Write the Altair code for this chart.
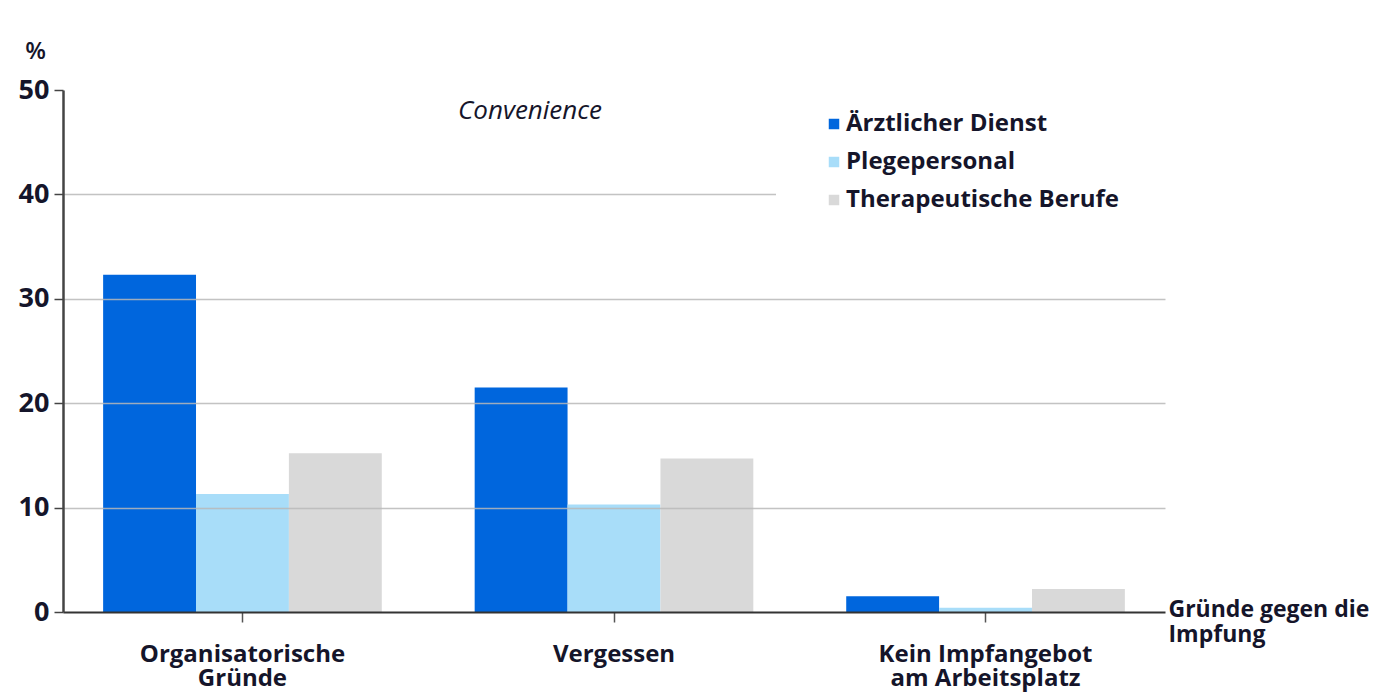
import altair as alt
import pandas as pd

categories = ["Organisatorische Gründe", "Vergessen", "Kein Impfangebot am Arbeitsplatz"]
label_lines = [["Organisatorische", "Gründe"], ["Vergessen"], ["Kein Impfangebot", "am Arbeitsplatz"]]
groups = ["Ärztlicher Dienst", "Plegepersonal", "Therapeutische Berufe"]
aerztlicher_dienst = [32.3, 21.5, 1.5]
pflegepersonal = [11.3, 10.3, 0.4]
therapeutische_berufe = [15.2, 14.7, 2.2]
colors = ["#0066DD", "#A8DDF9", "#D9D9D9"]
y_ticks = [0, 10, 20, 30, 40, 50]

rows = []
for series, vals in zip(groups, [aerztlicher_dienst, pflegepersonal, therapeutische_berufe]):
    for c, v in zip(categories, vals):
        rows.append({"Grund": c, "Gruppe": series, "Wert": v})
df = pd.DataFrame(rows)

expr = "datum.label"
for cat, lines in zip(categories, label_lines):
    if len(lines) > 1:
        arr = "[" + ", ".join("'" + s + "'" for s in lines) + "]"
        expr = f"datum.label == '{cat}' ? {arr} : ({expr})"

FONT = "Open Sans"
TXT = "#15152a"

chart = alt.Chart(df).mark_bar().encode(
    x=alt.X("Grund:N", sort=categories,
            scale=alt.Scale(paddingInner=0.25, paddingOuter=0.108),
            axis=alt.Axis(title=["Gründe gegen die", "Impfung"], titleX=1105, titleY=-14,
                          titleAlign="left", titleBaseline="top", titleAngle=0,
                          titleFont=FONT, titleFontSize=23, titleFontWeight="bold",
                          titleColor=TXT, titleLineHeight=25, titleLimit=0,
                          labelAngle=0, labelExpr=expr, labelFont=FONT, labelFontSize=24,
                          labelFontWeight="bold", labelColor=TXT, labelLineHeight=24,
                          labelBaseline="top", labelPadding=20, labelLimit=0,
                          domainColor="#333333", domainWidth=2,
                          tickColor="#555555", tickWidth=1.5, tickSize=10,
                          grid=False, zindex=1)),
    xOffset=alt.XOffset("Gruppe:N", sort=groups, scale=alt.Scale(paddingInner=0, paddingOuter=0)),
    y=alt.Y("Wert:Q", scale=alt.Scale(domain=[0, 50], nice=False),
            axis=alt.Axis(values=y_ticks, title="%", titleAngle=0, titleX=-28, titleY=-39,
                          titleAlign="center", titleBaseline="middle",
                          titleFont=FONT, titleFontSize=24, titleFontWeight=600,
                          titleColor=TXT,
                          labelFont=FONT, labelFontSize=27, labelFontWeight="bold",
                          labelColor=TXT, labelPadding=5,
                          domainColor="#444444", domainWidth=2.5,
                          tickColor="#444444", tickWidth=1.5, tickSize=9,
                          gridColor="#b8b8b8", gridWidth=1.5,
                          gridOpacity=alt.condition("datum.value == 0 || datum.value == 50",
                                                    alt.value(0), alt.value(0.85)),
                          zindex=1)),
    color=alt.Color("Gruppe:N", sort=groups,
                    scale=alt.Scale(domain=groups, range=colors),
                    legend=alt.Legend(orient="none", legendX=713, legendY=-24, title=None,
                                      fillColor="white", padding=46, symbolType="square",
                                      symbolSize=110, symbolStrokeWidth=0, rowPadding=14,
                                      labelFont=FONT, labelFontSize=24, labelFontWeight="bold",
                                      labelColor=TXT, labelOffset=0, labelLimit=0, zindex=3)),
).properties(
    width=1102,
    height=522,
    autosize=alt.AutoSizeParams(type="none"),
    padding={"left": 55, "top": 82, "right": 212, "bottom": 82},
    title=alt.TitleParams("Convenience", anchor="start", frame="group", dx=395, dy=85,
                          offset=0, font=FONT, fontSize=26, fontStyle="italic",
                          fontWeight="normal", color=TXT),
).configure(background="white").configure_view(stroke=None, strokeWidth=0)

chart.save("out.html", embed_options={"renderer": "svg", "actions": False})
